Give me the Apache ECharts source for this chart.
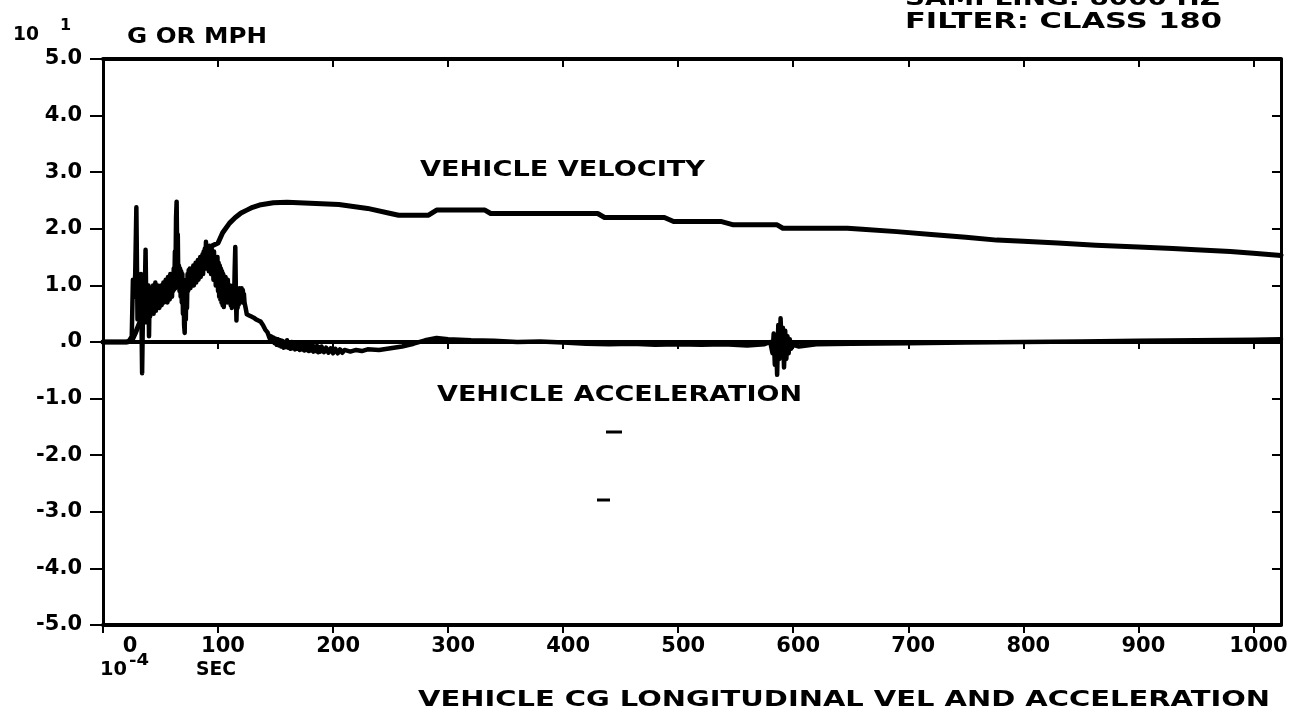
<!DOCTYPE html>
<html>
<head>
<meta charset="utf-8">
<script src="https://cdn.jsdelivr.net/npm/echarts@6/dist/echarts.min.js"></script>
<style>
  html, body { margin: 0; padding: 0; background: #ffffff; }
  #chart { width: 1302px; height: 719px; }
</style>
</head>
<body>
<div id="chart"></div>
<script>
// Time in units of 1e-4 s; values in units of 10 (G or MPH)
const velT = [0, 20, 25, 28, 32, 36, 40, 44, 48, 52, 56, 60, 65, 70, 75, 80, 85, 90, 95, 100, 104, 110, 115, 120, 125, 130, 136, 148, 160, 180, 205, 230, 250, 257, 283, 290, 332, 337, 430, 436, 488, 496, 537, 548, 586, 591, 647, 660, 690, 720, 750, 777, 800, 830, 863, 900, 930, 950, 980, 1000, 1024];
const velV = [0, 0, 0.02, 0.15, 0.35, 0.5, 0.55, 0.65, 0.8, 0.7, 0.85, 0.9, 1.0, 1.05, 1.1, 1.2, 1.4, 1.6, 1.7, 1.75, 1.93, 2.1, 2.2, 2.28, 2.33, 2.38, 2.42, 2.46, 2.47, 2.45, 2.43, 2.36, 2.27, 2.24, 2.24, 2.33, 2.33, 2.27, 2.27, 2.2, 2.2, 2.13, 2.13, 2.07, 2.07, 2.01, 2.01, 1.99, 1.95, 1.9, 1.85, 1.8, 1.78, 1.75, 1.71, 1.68, 1.65, 1.63, 1.6, 1.57, 1.53];

// Impact pulse, sampled densely through the crush phase
const accT = [0, 22, 25, 26, 27, 28, 29, 30, 31, 32, 33, 34, 35, 36, 37,
  37.5, 38, 38.5, 39, 39.5, 40, 40.5, 41, 41.5, 42, 42.5, 43, 43.5, 44, 44.5, 45, 45.5, 46, 46.5, 47, 47.5, 48, 48.5, 49, 49.5,
  50, 50.5, 51, 51.5, 52, 52.5, 53, 53.5, 54, 54.5, 55, 55.5, 56, 56.5, 57, 57.5, 58, 58.5, 59, 59.5,
  60, 60.5, 61, 61.5, 62, 62.5, 63, 63.5, 64, 64.5, 65, 65.5, 66, 66.5, 67, 67.5, 68, 68.5, 69, 69.5,
  70, 70.5, 71, 71.5, 72, 72.5, 73, 73.5, 74, 74.5, 75, 75.5, 76, 76.5, 77, 77.5, 78, 78.5, 79, 79.5,
  80, 80.5, 81, 81.5, 82, 82.5, 83, 83.5, 84, 84.5, 85, 85.5, 86, 86.5, 87, 87.5, 88, 88.5, 89, 89.5,
  90, 90.5, 91, 91.5, 92, 92.5, 93, 93.5, 94, 94.5, 95, 95.5, 96, 96.5, 97, 97.5, 98, 98.5, 99, 99.5,
  100, 100.5, 101, 101.5, 102, 102.5, 103, 103.5, 104, 104.5, 105, 105.5, 106, 106.5, 107, 107.5, 108, 108.5, 109, 109.5,
  110, 110.5, 111, 111.5, 112, 112.5, 113, 113.5, 114, 114.5, 115, 115.5, 116, 116.5, 117, 117.5, 118, 118.5, 119, 119.5,
  120, 120.5, 121, 121.5, 122, 122.5, 123, 124, 125, 127, 129, 131, 133, 135, 137, 139, 141, 143, 145,
  146, 147, 148, 149, 150, 151, 152, 153, 154, 155, 156, 157, 158, 159, 160, 161, 162, 163, 164, 165, 166, 167, 168, 169,
  170, 171, 172, 173, 174, 175, 176, 177, 178, 179, 180, 181, 182, 183, 184, 185, 186, 187, 188, 189, 190, 192, 194, 196, 198,
  200, 202, 204, 206, 208, 210, 215, 220, 225, 230, 240, 250, 260, 270, 280, 290, 300, 320, 340, 360, 380, 400, 420, 440, 460,
  480, 500, 520, 540, 560, 575, 580, 582, 583, 584, 585, 586, 587, 588, 589, 590, 591, 592, 593, 594, 595, 596, 597, 598,
  600, 605, 620, 650, 700, 750, 800, 850, 900, 950, 1000, 1024];
const accV = [0, 0, 0.1, 1.1, 0.8, 1.2, 2.38, 0.4, 1.1, 0.6, 1.2, -0.55, 0.9, 0.5, 1.63,
  0.85, 0.35, 0.9, 0.4, 1.0, 0.1, 0.8, 0.45, 0.95, 0.5, 0.9, 0.55, 1.0, 0.5, 0.95, 0.6, 1.05, 0.55, 0.95, 0.6, 1.0, 0.65, 0.95, 0.6, 0.9,
  0.7, 1.0, 0.65, 0.95, 0.75, 1.05, 0.7, 1.0, 0.75, 1.1, 0.8, 1.05, 0.7, 1.15, 0.8, 1.1, 0.75, 1.2, 0.85, 1.1,
  0.8, 1.2, 0.9, 1.3, 1.0, 1.6, 1.2, 2.2, 2.48, 1.5, 1.9, 1.0, 1.35, 0.9, 1.3, 0.8, 1.25, 0.7, 1.2, 0.5,
  1.1, 0.3, 0.16, 0.9, 0.4, 1.1, 0.6, 1.2, 0.9, 1.27, 1.0, 1.3, 0.95, 1.25, 1.0, 1.3, 1.05, 1.35, 1.0, 1.3,
  1.1, 1.4, 1.05, 1.35, 1.15, 1.45, 1.1, 1.4, 1.2, 1.5, 1.15, 1.45, 1.25, 1.55, 1.2, 1.6, 1.3, 1.65, 1.3, 1.77,
  1.35, 1.7, 1.3, 1.65, 1.25, 1.7, 1.3, 1.6, 1.2, 1.65, 1.3, 1.55, 1.1, 1.6, 1.2, 1.5, 1.0, 1.45, 1.1, 1.5,
  0.9, 1.4, 0.8, 1.35, 0.75, 1.3, 0.7, 1.25, 0.65, 1.2, 0.62, 1.1, 0.7, 1.15, 0.75, 1.05, 0.7, 1.1, 0.8, 1.0,
  0.7, 1.0, 0.65, 0.95, 0.6, 0.9, 0.7, 1.0, 0.8, 1.3, 1.68, 0.9, 0.38, 0.8, 0.6, 0.9, 0.66, 0.95, 0.7, 0.9,
  0.75, 0.95, 0.7, 0.92, 0.8, 0.85, 0.7, 0.6, 0.49, 0.47, 0.45, 0.43, 0.4, 0.38, 0.36, 0.3, 0.22, 0.17, 0.06,
  0.1, 0.02, 0.08, -0.02, 0.06, -0.05, 0.05, -0.06, 0.03, -0.08, 0.02, -0.1, 0.0, -0.09, 0.03, -0.1, -0.01, -0.12, 0.0, -0.11, -0.02, -0.13, -0.03, -0.12,
  -0.01, -0.14, -0.04, -0.13, -0.05, -0.15, -0.06, -0.14, -0.05, -0.16, -0.07, -0.15, -0.06, -0.17, -0.08, -0.16, -0.07, -0.18, -0.09, -0.17, -0.08, -0.18, -0.1, -0.19, -0.11,
  -0.2, -0.12, -0.2, -0.13, -0.19, -0.14, -0.17, -0.14, -0.16, -0.13, -0.14, -0.11, -0.08, -0.03, 0.03, 0.07, 0.05, 0.03, 0.02, 0.0, 0.01, -0.01, -0.03, -0.04, -0.03,
  -0.05, -0.04, -0.05, -0.04, -0.06, -0.04, 0.0, -0.2, 0.15, -0.4, 0.1, -0.58, 0.3, -0.3, 0.42, -0.1, 0.25, -0.45, 0.2, -0.3, 0.1, -0.2, 0.05, -0.12,
  -0.05, -0.08, -0.04, -0.03, -0.02, -0.01, 0.0, 0.01, 0.02, 0.03, 0.04, 0.05];

const xTickValues = [0, 100, 200, 300, 400, 500, 600, 700, 800, 900, 1000];
const xTickLabels = ['0', '100', '200', '300', '400', '500', '600', '700', '800', '900', '1000'];
const yTickValues = [-5, -4, -3, -2, -1, 0, 1, 2, 3, 4, 5];
const yTickLabels = ['-5.0', '-4.0', '-3.0', '-2.0', '-1.0', '.0', '1.0', '2.0', '3.0', '4.0', '5.0'];

const FONT_FAMILY = '"DejaVu Sans", sans-serif';
const INK = '#000000';

function zip(ts, vs) {
  return ts.map((t, i) => [t, vs[i]]);
}

// Stretch plotter-style text horizontally to fill a given span
const measureCtx = document.createElement('canvas').getContext('2d');
function plotterText(text, left, cy, size, span) {
  const font = 'bold ' + size + 'px ' + FONT_FAMILY;
  measureCtx.font = font;
  const natural = measureCtx.measureText(text).width;
  const sx = span ? span / natural : 1;
  return {
    type: 'text',
    x: left,
    y: cy,
    scaleX: sx,
    silent: true,
    style: { text: text, font: font, fill: INK, align: 'left', verticalAlign: 'middle' }
  };
}

function dash(x1, x2, y) {
  return { type: 'line', silent: true, shape: { x1: x1, y1: y, x2: x2, y2: y }, style: { stroke: INK, lineWidth: 3 } };
}

const labelFont = { color: INK, fontFamily: FONT_FAMILY, fontWeight: 'bold', fontSize: 21 };
const X_MAX = 1024;

const chart = echarts.init(document.getElementById('chart'), null, { renderer: 'canvas' });

const option = {
  animation: false,
  backgroundColor: '#ffffff',
  grid: { left: 103, right: 21, top: 59, bottom: 94, containLabel: false, outerBoundsMode: 'none' },
  xAxis: [
    {
      type: 'value', position: 'bottom', min: 0, max: X_MAX, interval: 100,
      axisLine: { onZero: false, lineStyle: { color: INK, width: 4 } },
      axisTick: { inside: false, length: 8, lineStyle: { color: INK, width: 2 }, customValues: xTickValues },
      axisLabel: Object.assign({
        margin: 11,
        customValues: xTickValues,
        formatter: function (v) {
          const i = xTickValues.indexOf(v);
          if (i < 0) return '';
          return v === 0 ? '{first|' + xTickLabels[i] + '}' : '{tick|' + xTickLabels[i] + '}';
        },
        rich: {
          first: Object.assign({ padding: [0, 0, 0, 54] }, labelFont),
          tick: Object.assign({ padding: [0, 0, 0, 10] }, labelFont)
        }
      }, labelFont),
      splitLine: { show: false }
    },
    {
      type: 'value', position: 'top', min: 0, max: X_MAX, interval: 100,
      axisLine: { onZero: false, lineStyle: { color: INK, width: 4 } },
      axisTick: { inside: true, length: 8, lineStyle: { color: INK, width: 2 }, customValues: xTickValues },
      axisLabel: { show: false },
      splitLine: { show: false }
    },
    {
      type: 'value', position: 'bottom', min: 0, max: X_MAX, interval: 100,
      axisLine: { onZero: true, onZeroAxisIndex: 0, lineStyle: { color: INK, width: 4 } },
      axisTick: { inside: false, length: 7, lineStyle: { color: INK, width: 2 }, customValues: xTickValues },
      axisLabel: { show: false },
      splitLine: { show: false }
    }
  ],
  yAxis: [
    {
      type: 'value', position: 'left', min: -5, max: 5, interval: 1,
      axisLine: { onZero: false, lineStyle: { color: INK, width: 3 } },
      axisTick: { inside: false, length: 13, lineStyle: { color: INK, width: 2 } },
      axisLabel: Object.assign({
        margin: 21,
        formatter: function (v) {
          const i = yTickValues.indexOf(Math.round(v));
          return i < 0 ? '' : yTickLabels[i];
        }
      }, labelFont),
      splitLine: { show: false }
    },
    {
      type: 'value', position: 'right', min: -5, max: 5, interval: 1,
      axisLine: { onZero: false, lineStyle: { color: INK, width: 3 } },
      axisTick: { inside: true, length: 9, lineStyle: { color: INK, width: 2 } },
      axisLabel: { show: false },
      splitLine: { show: false }
    }
  ],
  series: [
    {
      name: 'VEHICLE VELOCITY', type: 'line', xAxisIndex: 0, yAxisIndex: 0,
      data: zip(velT, velV), showSymbol: false, symbol: 'none',
      lineStyle: { color: INK, width: 5, join: 'round', cap: 'round' }, z: 3
    },
    {
      name: 'VEHICLE ACCELERATION', type: 'line', xAxisIndex: 0, yAxisIndex: 0,
      data: zip(accT, accV), showSymbol: false, symbol: 'none',
      lineStyle: { color: INK, width: 4.5, join: 'round', cap: 'round' }, z: 3
    }
  ],
  graphic: [
    plotterText('SAMPLING: 8000 HZ', 905, -1, 22, 315),
    plotterText('FILTER: CLASS 180', 905, 22, 22, 317),
    plotterText('10', 13, 35, 20, 26),
    plotterText('1', 60, 26, 16, 0),
    plotterText('G OR MPH', 127, 38, 21, 140),
    plotterText('VEHICLE VELOCITY', 420, 170, 22, 285),
    plotterText('VEHICLE ACCELERATION', 437, 395, 22, 365),
    plotterText('10', 100, 670, 20, 27),
    plotterText('-4', 129, 661, 16, 20),
    plotterText('SEC', 196, 670, 20, 40),
    plotterText('VEHICLE CG LONGITUDINAL VEL AND ACCELERATION', 418, 700, 22, 852),
    dash(606, 622, 432),
    dash(597, 610, 500)
  ]
};

chart.setOption(option);
</script>
</body>
</html>
